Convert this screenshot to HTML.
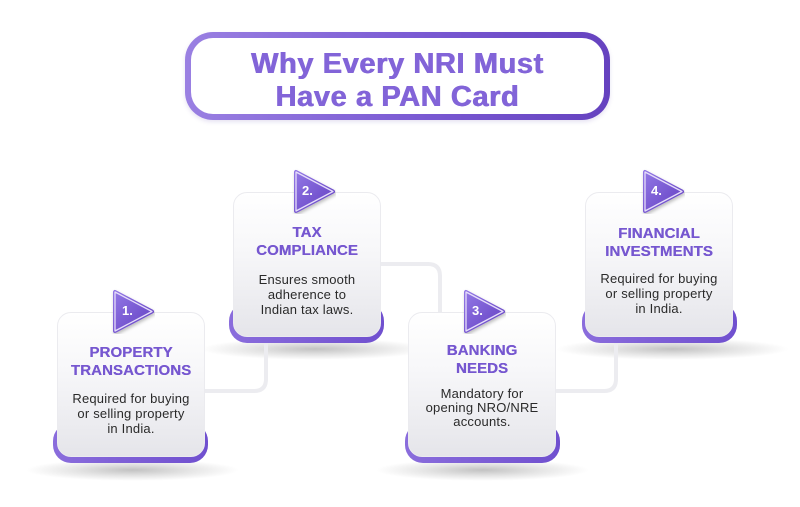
<!DOCTYPE html>
<html>
<head>
<meta charset="utf-8">
<style>
  html,body{margin:0;padding:0;background:#ffffff;}
  body{width:800px;height:507px;position:relative;overflow:hidden;font-family:"Liberation Sans",Arial,sans-serif;}
  .abs{position:absolute;}
  .title{left:185px;top:32px;width:425px;height:88px;box-sizing:border-box;border:6px solid transparent;border-radius:28px;
    background:linear-gradient(#fff,#fff) padding-box, linear-gradient(90deg,#9a80e2,#7a5ad3 55%,#6542bf) border-box;
    box-shadow:0 2px 4px rgba(90,60,170,0.15);}
  .title div{position:absolute;left:0;width:100%;text-align:center;font-weight:bold;font-size:29px;letter-spacing:0.6px;color:#8264d8;line-height:34px;
    text-shadow:0.4px 0 0 #8264d8,-0.4px 0 0 #8264d8;}
  .base{position:absolute;width:155px;height:40px;border-radius:18px;background:linear-gradient(90deg,#8a6ddc,#7050cf);}
  .face{position:absolute;width:148px;height:145px;box-sizing:border-box;border-radius:14px;border:1px solid #ebebef;
    background:linear-gradient(180deg,#ffffff 0%,#f7f7f9 40%,#e5e5ea 100%);}
  .h{position:absolute;left:0;width:100%;text-align:center;font-weight:bold;font-size:15px;line-height:18px;color:#7657d0;letter-spacing:0.1px;
    text-shadow:0.3px 0 0 #7657d0;}
  .b{position:absolute;left:0;width:100%;text-align:center;font-size:13px;line-height:15px;color:#2a2a2a;letter-spacing:0.2px;}
  .sh{position:absolute;height:22px;background:radial-gradient(ellipse at center,rgba(0,0,0,0.24) 0%,rgba(0,0,0,0.10) 38%,rgba(0,0,0,0) 70%);}
  .badge{position:absolute;width:44px;height:46px;}
  .num{position:absolute;color:#fff;font-weight:bold;font-size:13px;line-height:14px;}
</style>
</head>
<body>

<!-- Title -->
<div class="abs title">
  <div style="top:9px;">Why Every NRI Must</div>
  <div style="top:42px;">Have a PAN Card</div>
</div>

<!-- shadows -->
<div class="sh" style="left:25px;top:459px;width:215px;"></div>
<div class="sh" style="left:375px;top:459px;width:215px;"></div>
<div class="sh" style="left:200px;top:338px;width:230px;"></div>
<div class="sh" style="left:555px;top:338px;width:235px;"></div>

<!-- connectors -->
<svg class="abs" style="left:0;top:0;" width="800" height="507">
  <g fill="none" stroke="#ececf0" stroke-width="4" stroke-linecap="round">
    <path d="M205 391 H254 Q266 391 266 379 V340"/>
    <path d="M380 264 H428 Q440 264 440 276 V312"/>
    <path d="M557 391 H604 Q616 391 616 379 V340"/>
  </g>
</svg>

<!-- Card 1 -->
<div class="base" style="left:53px;top:423px;"></div>
<div class="face" style="left:57px;top:312px;">
  <div class="h" style="top:31px;">PROPERTY<br>TRANSACTIONS</div>
  <div class="b" style="top:78px;">Required for buying<br>or selling property<br>in India.</div>
</div>

<!-- Card 2 -->
<div class="base" style="left:229px;top:303px;"></div>
<div class="face" style="left:233px;top:192px;">
  <div class="h" style="top:31px;">TAX<br>COMPLIANCE</div>
  <div class="b" style="top:79px;">Ensures smooth<br>adherence to<br>Indian tax laws.</div>
</div>

<!-- Card 3 -->
<div class="base" style="left:405px;top:423px;"></div>
<div class="face" style="left:408px;top:312px;">
  <div class="h" style="top:29px;">BANKING<br>NEEDS</div>
  <div class="b" style="top:74px;line-height:14px;">Mandatory for<br>opening NRO/NRE<br>accounts.</div>
</div>

<!-- Card 4 -->
<div class="base" style="left:582px;top:303px;"></div>
<div class="face" style="left:585px;top:192px;">
  <div class="h" style="top:32px;">FINANCIAL<br>INVESTMENTS</div>
  <div class="b" style="top:78px;">Required for buying<br>or selling property<br>in India.</div>
</div>

<!-- Badges -->
<svg width="0" height="0" style="position:absolute">
  <defs>
    <linearGradient id="bg" x1="0" y1="0" x2="1" y2="1">
      <stop offset="0" stop-color="#9176e4"/>
      <stop offset="1" stop-color="#6340c2"/>
    </linearGradient>
    <filter id="ds" x="-30%" y="-30%" width="160%" height="160%">
      <feDropShadow dx="1" dy="2" stdDeviation="1.5" flood-color="#000" flood-opacity="0.25"/>
    </filter>
  </defs>
</svg>

<svg class="badge" style="left:111px;top:288px;" viewBox="0 0 44 46">
  <polygon points="4,4 4,43 41,23.5" fill="url(#bg)" stroke="url(#bg)" stroke-width="4" stroke-linejoin="round" filter="url(#ds)"/>
  <polygon points="4,4 4,43 41,23.5" fill="none" stroke="#e6defa" stroke-width="1.3" stroke-linejoin="round"/>
</svg>
<div class="num" style="left:122px;top:304px;">1.</div>

<svg class="badge" style="left:292px;top:168px;" viewBox="0 0 44 46">
  <polygon points="4,4 4,43 41,23.5" fill="url(#bg)" stroke="url(#bg)" stroke-width="4" stroke-linejoin="round" filter="url(#ds)"/>
  <polygon points="4,4 4,43 41,23.5" fill="none" stroke="#e6defa" stroke-width="1.3" stroke-linejoin="round"/>
</svg>
<div class="num" style="left:302px;top:184px;">2.</div>

<svg class="badge" style="left:462px;top:288px;" viewBox="0 0 44 46">
  <polygon points="4,4 4,43 41,23.5" fill="url(#bg)" stroke="url(#bg)" stroke-width="4" stroke-linejoin="round" filter="url(#ds)"/>
  <polygon points="4,4 4,43 41,23.5" fill="none" stroke="#e6defa" stroke-width="1.3" stroke-linejoin="round"/>
</svg>
<div class="num" style="left:472px;top:304px;">3.</div>

<svg class="badge" style="left:641px;top:168px;" viewBox="0 0 44 46">
  <polygon points="4,4 4,43 41,23.5" fill="url(#bg)" stroke="url(#bg)" stroke-width="4" stroke-linejoin="round" filter="url(#ds)"/>
  <polygon points="4,4 4,43 41,23.5" fill="none" stroke="#e6defa" stroke-width="1.3" stroke-linejoin="round"/>
</svg>
<div class="num" style="left:651px;top:184px;">4.</div>

</body>
</html>
